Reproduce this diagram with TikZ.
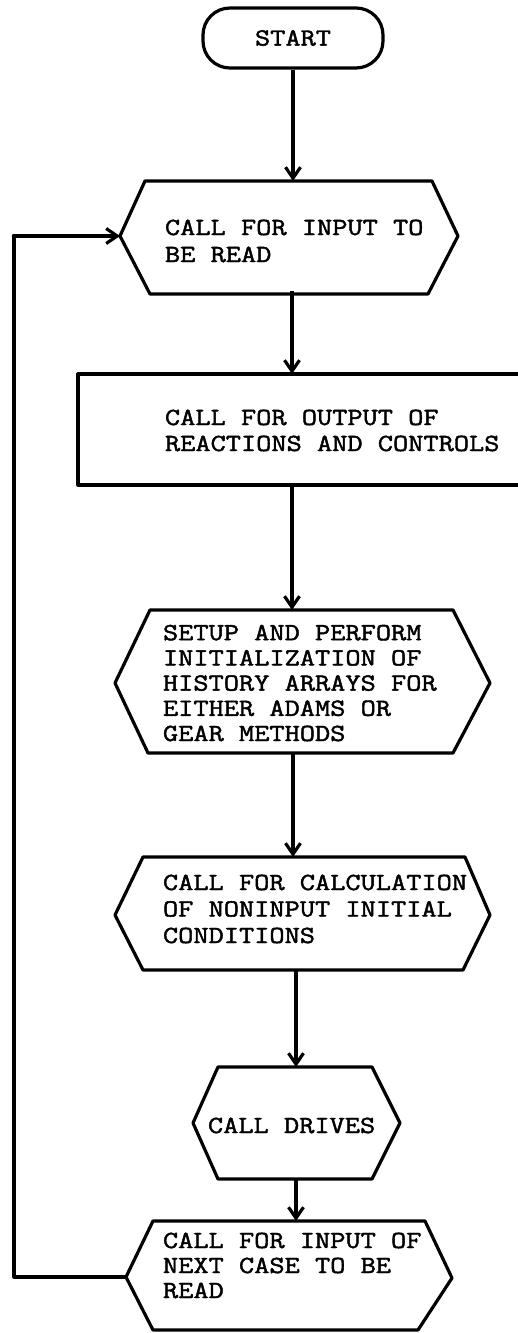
\documentclass[tikz,border=0pt]{standalone}
\usepackage{fontspec}
\newfontfamily\courfont[FakeBold=1.8,FakeStretch=1.2]{Latin Modern Mono}
\usetikzlibrary{arrows.meta}
\tikzset{
  line/.style={line width=3.2pt, line join=round},
  arr/.style={line, -{Straight Barb[length=11pt,width=15pt]}},
  shapebox/.style={draw=none, inner sep=0pt, outer sep=0pt},
  txt/.style={inner sep=0pt, outer sep=0pt, align=left, anchor=base west},
  terminal/.style={line, draw, rounded corners=27pt, inner sep=0pt, minimum width=180pt, minimum height=60pt}
}
\newcommand{\cfont}[1]{\courfont\fontsize{24.6pt}{#1}\selectfont}
\begin{document}
\begin{tikzpicture}[x=1pt,y=-1pt]
\useasboundingbox (0,0) rectangle (518,1333);

% START
\node[terminal, font=\cfont{25.5pt}] (start) at (293,38) {START};

% hex 1
\node[shapebox, minimum width=344pt, minimum height=110pt] (h1) at (292,236) {};
\draw[line] (145,181) -- (432,181) -- (458,236) -- (428,294) -- (150,294) -- (120,236) -- cycle;
\node[txt, font=\cfont{27pt}] (t1) at (165,262) {CALL FOR INPUT TO\\BE READ};

% rectangle (cut at the right edge)
\node[shapebox, minimum width=428pt, minimum height=111pt] (r) at (292,429.5) {};
\draw[line] (519,374) -- (78,374) -- (78,485) -- (519,485);
\node[txt, font=\cfont{26pt}] (t2) at (165,451) {CALL FOR OUTPUT OF\\REACTIONS AND CONTROLS};

% hex 3
\node[shapebox, minimum width=356pt, minimum height=143pt] (h3) at (293,681.5) {};
\draw[line] (150,610) -- (453,610) -- (490,683) -- (453,753) -- (148,753) -- (115,683) -- cycle;
\node[txt, font=\cfont{25.2pt}] (t3) at (163,741) {SETUP AND PERFORM\\INITIALIZATION OF\\HISTORY ARRAYS FOR\\EITHER ADAMS OR\\GEAR METHODS};

% hex 4
\node[shapebox, minimum width=359pt, minimum height=113pt] (h4) at (294.5,913.5) {};
\draw[line] (143,857) -- (465,857) -- (490,915) -- (463,970) -- (143,970) -- (115,915) -- cycle;
\node[txt, font=\cfont{26.5pt}] (t4) at (163,943) {CALL FOR CALCULATION\\OF NONINPUT INITIAL\\CONDITIONS};

% hex 5
\node[shapebox, minimum width=206pt, minimum height=112pt] (h5) at (296,1123) {};
\draw[line] (218,1067) -- (372,1067) -- (400,1123) -- (372,1179) -- (218,1179) -- (193,1123) -- cycle;
\node[txt, font=\cfont{25pt}] (t5) at (208,1133) {CALL DRIVES};

% hex 6
\node[shapebox, minimum width=340pt, minimum height=112pt] (h6) at (296,1277) {};
\draw[line] (153,1221) -- (425,1221) -- (452,1278) -- (418,1330) -- (153,1330) -- (126,1277) -- cycle;
\node[txt, font=\cfont{25pt}] (t6) at (163,1298) {CALL FOR INPUT OF\\NEXT CASE TO BE\\READ};

% connectors
\draw[arr] (start.south) -- (start.south |- h1.north);
\draw[arr] (h1.south) -- (h1.south |- r.north);
\draw[arr] (r.south) -- (r.south |- h3.north);
\draw[arr] (h3.south) -- (h3.south |- h4.north);
\draw[arr] (h4.south -| h5.north) -- (h5.north);
\draw[arr] (h5.south) -- (h5.south |- h6.north);

\coordinate (lt) at (14,236);
\draw[arr] (h6.west) -| (lt) -- (h1.west);
\fill (lt) circle (2.2pt);
\end{tikzpicture}
\end{document}
